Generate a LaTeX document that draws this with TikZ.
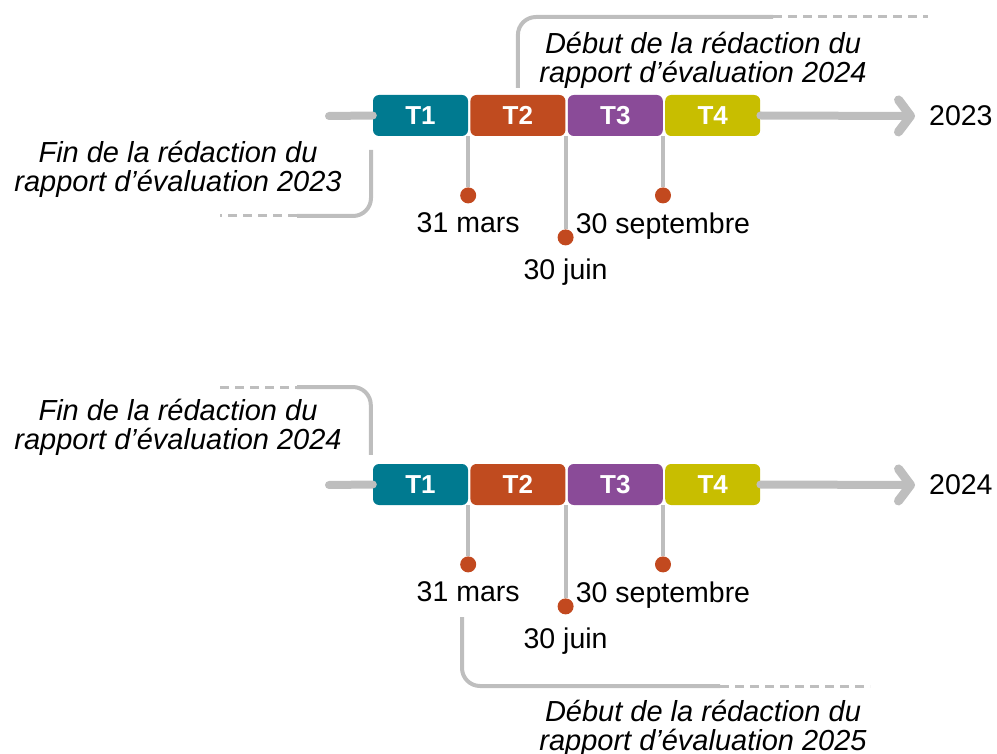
\documentclass[tikz,border=0pt]{standalone}
\usepackage{fontspec}
\setmainfont{Liberation Sans}
\usepackage{xcolor}
\usetikzlibrary{positioning, arrows.meta}

\definecolor{qteal}{HTML}{007A90}
\definecolor{qrust}{HTML}{C04B1F}
\definecolor{qplum}{HTML}{8A4B98}
\definecolor{qolive}{HTML}{C8BE00}
\definecolor{axisgray}{HTML}{BEBEBE}
\definecolor{dotred}{HTML}{C2491F}

\begin{document}
\begin{tikzpicture}[x=1pt, y=-1pt,
        quarter/.style={fill=#1, text=white, rounded corners=6pt, minimum width=95pt, minimum height=41pt, inner sep=0pt, font=\fontsize{26}{26}\selectfont\bfseries},
        datelabel/.style={font=\fontsize{28.5}{30}\selectfont, inner sep=0pt},
        note/.style={font=\fontsize{29}{29}\selectfont\itshape, align=center, inner sep=0pt, anchor=north},
        axis/.style={line width=8pt, draw=axisgray, line cap=round},
        axisarrow/.style={axis, -{Straight Barb[length=12pt, width=32pt, round, line width=9pt]}},
        tick/.style={line width=4pt, draw=axisgray},
        dot/.style={circle, fill=dotred, minimum size=16pt, inner sep=0pt},
        bracket/.style={line width=4pt, draw=axisgray, rounded corners=18pt},
        dashline/.style={line width=3pt, draw=axisgray, dash pattern=on 9pt off 6pt},
        node distance=2pt
    ]
    \useasboundingbox (0,0) rectangle (997,754);

    % Annee 2023
    \node[quarter=qteal] (a1) at (420.5,115.5) {T1};
    \node[quarter=qrust, right=of a1] (a2) {T2};
    \node[quarter=qplum, right=of a2] (a3) {T3};
    \node[quarter=qolive, right=of a3] (a4) {T4};
    \coordinate (a0) at (329,116);
    \coordinate (aend) at (915,116);
    \node[datelabel, anchor=west] (ayear) at (929,116) {2023};

    \node[dot, below=51pt of a1.south east] (da1) {};
    \node[dot, below=93pt of a2.south east] (da2) {};
    \node[dot, below=51pt of a3.south east] (da3) {};
    \node[datelabel, below=9pt of da1] (la1) {31 mars};
    \node[datelabel, below=13pt of da2] (la2) {30 juin};
    \node[datelabel, below=9pt of da3] (la3) {30 septembre};

    \coordinate[above=7pt of a2] (ta1);
    \coordinate (ta2) at (773,17);
    \coordinate (ta3) at (928,17);
    \node[note] (na1) at (703,32) {Début de la rédaction du\\rapport d’évaluation 2024};

    \coordinate (sa1) at (371,150);
    \coordinate (sa2) at (297,216);
    \coordinate (sa3) at (220,216);
    \node[note] (ma1) at (178,141) {Fin de la rédaction du\\rapport d’évaluation 2023};

    % Annee 2024
    \node[quarter=qteal] (b1) at (420.5,484.5) {T1};
    \node[quarter=qrust, right=of b1] (b2) {T2};
    \node[quarter=qplum, right=of b2] (b3) {T3};
    \node[quarter=qolive, right=of b3] (b4) {T4};
    \coordinate (b0) at (329,485);
    \coordinate (bend) at (915,485);
    \node[datelabel, anchor=west] (byear) at (929,485) {2024};

    \node[dot, below=51pt of b1.south east] (db1) {};
    \node[dot, below=93pt of b2.south east] (db2) {};
    \node[dot, below=51pt of b3.south east] (db3) {};
    \node[datelabel, below=9pt of db1] (lb1) {31 mars};
    \node[datelabel, below=13pt of db2] (lb2) {30 juin};
    \node[datelabel, below=9pt of db3] (lb3) {30 septembre};

    \coordinate (sb1) at (220,387);
    \coordinate (sb2) at (297,387);
    \coordinate[above=9pt of b1.north west] (sb3);
    \node[note] (mb1) at (178,399) {Fin de la rédaction du\\rapport d’évaluation 2024};

    \coordinate (tb1) at (462,617);
    \coordinate (tb2) at (720,686);
    \coordinate (tb3) at (870,686);
    \node[note] (nb1) at (703,700) {Début de la rédaction du\\rapport d’évaluation 2025};

    % Lignes
    \draw[axis] (a0) -- (a1.west);
    \draw[axisarrow] (a4.east) -- (aend);
    \draw[tick] (a1.south east) -- (da1);
    \draw[tick] (a2.south east) -- (da2);
    \draw[tick] (a3.south east) -- (da3);
    \draw[bracket] (ta1) |- (ta2);
    \draw[dashline] (ta2) -- (ta3);
    \draw[bracket] (sa1) |- (sa2);
    \draw[dashline] (sa2) -- (sa3);

    \draw[axis] (b0) -- (b1.west);
    \draw[axisarrow] (b4.east) -- (bend);
    \draw[tick] (b1.south east) -- (db1);
    \draw[tick] (b2.south east) -- (db2);
    \draw[tick] (b3.south east) -- (db3);
    \draw[dashline] (sb1) -- (sb2);
    \draw[bracket] (sb2) -| ([xshift=-2pt]sb3);
    \draw[bracket] (tb1) |- (tb2);
    \draw[dashline] (tb2) -- (tb3);
\end{tikzpicture}
\end{document}
